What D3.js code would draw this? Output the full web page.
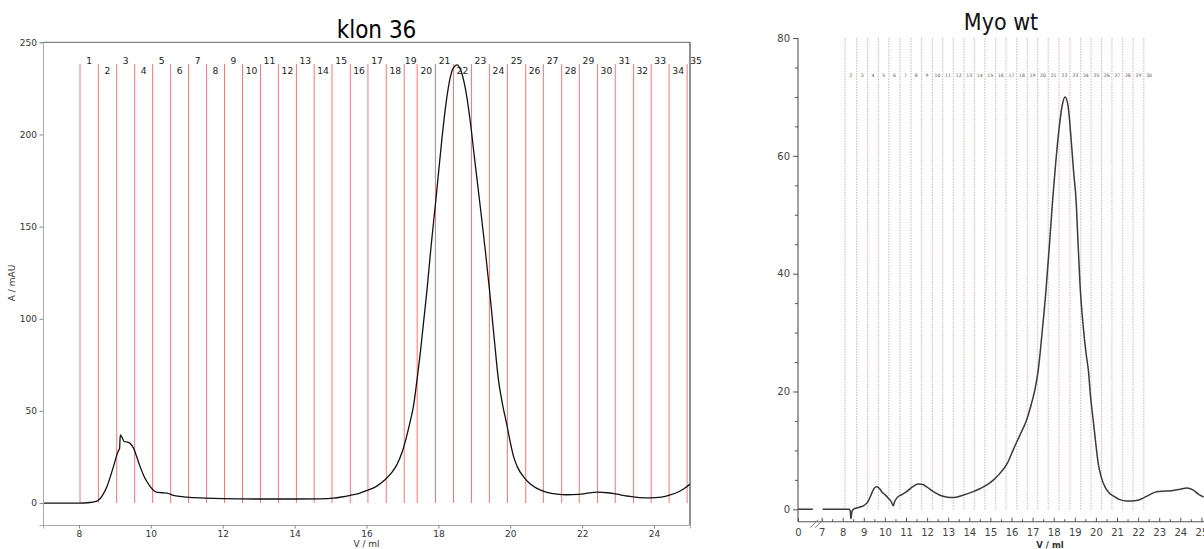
<!DOCTYPE html>
<html><head><meta charset="utf-8">
<script src="https://cdn.jsdelivr.net/npm/d3@7/dist/d3.min.js"></script>
<style>html,body{margin:0;padding:0;background:#fff;}svg{display:block;}</style>
</head><body>
<svg id="chart" width="1204" height="549"></svg>
<script>
// ---------- DATA: left panel "klon 36" ----------
const leftTitle = "klon 36";
const leftXTicks = [8,10,12,14,16,18,20,22,24];
const leftYTicks = [0,50,100,150,200,250];
const leftFractionStarts = [8.03,8.54,9.05,9.55,10.05,10.55,11.05,11.55,12.05,12.55,13.05,13.55,14.05,14.545,15.04,15.55,16.04,16.55,17.05,17.41,17.92,18.42,18.92,19.42,19.92,20.43,20.92,21.43,21.92,22.43,22.92,23.43,23.92,24.42,24.92];
const leftFractionLabels = d3.range(1,36).map(String);
const leftVolume = [7.0,8.0,8.3,8.45,8.54,8.65,8.78,8.96,9.10,9.13,9.15,9.2,9.26,9.38,9.45,9.52,9.6,9.70,9.8,9.89,10.0,10.08,10.15,10.3,10.45,10.63,10.8,11.0,11.5,12,13,14,14.7,15.08,15.3,15.55,15.8,16.0,16.25,16.5,16.7,16.85,16.98,17.1,17.2,17.31,17.4,17.5,17.68,17.8,17.93,18.1,18.2,18.3,18.4,18.52,18.62,18.75,18.9,19.0,19.14,19.3,19.42,19.55,19.67,19.78,19.9,20.0,20.09,20.2,20.37,20.55,20.74,20.9,21.11,21.3,21.57,21.9,22.2,22.41,22.7,22.96,23.3,23.6,23.89,24.2,24.45,24.7,24.85,25.0];
const leftAbs =    [0,0,0.3,0.8,1.5,4,9,19.8,28.5,29.5,37,35.5,33.4,32.9,31.8,29.8,25.5,19.9,15,11.7,8.5,6.8,6.0,5.6,5.4,4.2,3.6,3.2,2.7,2.4,2.2,2.2,2.3,2.7,3.3,4.2,5.3,6.7,8.8,12.4,16.5,21,27,35,43,53,66,82,115,140,164.5,198,215,228,235.5,237.8,235,225,205,188,165,138,116,90,67,54,43,33,25.3,19.5,14.2,10.5,8.0,6.6,5.4,4.8,4.5,4.7,5.5,5.9,5.6,4.8,3.7,3.0,2.8,3.2,4.4,6.3,8,10.3];

// ---------- DATA: right panel "Myo wt" ----------
const rightTitle = "Myo wt";
const rightXTicks = [0,7,8,9,10,11,12,13,14,15,16,17,18,19,20,21,22,23,24,25];
const rightYTicks = [0,20,40,60,80];
const rightFractionStarts = [8.11,8.66,9.18,9.69,10.19,10.72,11.24,11.74,12.25,12.74,13.24,13.75,14.24,14.74,15.25,15.74,16.25,16.75,17.24,17.74,18.25,18.77,19.28,19.77,20.27,20.76,21.27,21.76,22.27];
const rightFractionLabels = d3.range(2,31).map(String);
const rightVolume = [0,4.4,null,7.05,8.3,8.36,8.39,8.43,8.5,8.75,8.98,9.1,9.21,9.35,9.45,9.55,9.64,9.75,9.85,10.0,10.16,10.3,10.4,10.45,10.56,10.8,11.03,11.3,11.58,11.8,11.98,12.3,12.61,12.9,13.24,13.7,14.19,14.5,14.82,15.15,15.45,15.8,16.08,16.4,16.72,16.95,17.11,17.27,17.45,17.63,17.8,17.95,18.1,18.25,18.4,18.54,18.68,18.8,18.95,19.06,19.15,19.25,19.4,19.55,19.64,19.75,19.87,20.0,20.11,20.25,20.43,20.62,20.82,21.1,21.46,21.93,22.4,22.88,23.3,23.67,24.0,24.3,24.6,24.85,25.1];
const rightAbs =    [0,0,null,0,0,-0.3,-1.6,-0.5,0,0.3,0.6,0.9,1.4,2.5,3.3,3.75,3.85,3.5,3.0,2.5,1.9,1.3,0.6,1.2,1.9,2.5,3.0,3.8,4.3,4.2,3.8,3.0,2.4,2.1,2.0,2.4,3.0,3.5,4.1,5.0,6.1,7.8,10.1,12.6,15.2,18,20.3,23.7,30,37,45,52.5,59,64.5,68.5,70,68.5,64,57,52.5,45.5,38,31,26,23.7,19,15.2,11,7.8,5.5,3.8,2.8,2.3,1.7,1.4,1.5,2.2,3.0,3.1,3.2,3.4,3.6,3.3,2.6,2.1];

const svg = d3.select("#chart");
svg.append("rect").attr("width",1204).attr("height",549).attr("fill","#fff");
const FONT = "DejaVu Sans, sans-serif";

// ================= LEFT PANEL =================
const L = {x0:43, x1:690, y0:42.3, y1:525};
const xL = d3.scaleLinear().domain([7,25]).range([L.x0,L.x1]);
const yL = d3.scaleLinear().domain([-11.9,250]).range([L.y1,L.y0]);
const gL = svg.append("g");

gL.append("defs").append("clipPath").attr("id","clipL")
  .append("rect").attr("x",L.x0).attr("y",L.y0).attr("width",L.x1-L.x0).attr("height",L.y1-L.y0);

// fraction lines
const lineTop = 238.2;
gL.append("g").selectAll("line").data(leftFractionStarts).join("line")
  .attr("x1",d=>xL(d)).attr("x2",d=>xL(d))
  .attr("y1",yL(0)).attr("y2",yL(lineTop))
  .attr("stroke","red").attr("stroke-opacity",0.55).attr("stroke-width",1);

// fraction labels
gL.append("g").selectAll("text").data(leftFractionLabels).join("text")
  .attr("x",(d,i)=>{const a=leftFractionStarts[i]; const b=i+1<leftFractionStarts.length?leftFractionStarts[i+1]:a+0.5; return xL((a+b)/2);})
  .attr("y",(d,i)=> i%2===0 ? 64 : 73.5)
  .attr("text-anchor","middle").attr("font-family",FONT).attr("font-size",9.2).attr("fill","#222")
  .text(d=>d);

// curve
const leftPts = leftVolume.map((v,i)=>[v,leftAbs[i]]);
gL.append("path").datum(leftPts)
  .attr("clip-path","url(#clipL)")
  .attr("d", d3.line().x(d=>xL(d[0])).y(d=>yL(d[1])).curve(d3.curveMonotoneX))
  .attr("fill","none").attr("stroke","#111").attr("stroke-width",1.3);

// spines
gL.append("line").attr("x1",L.x0).attr("x2",L.x1).attr("y1",L.y0).attr("y2",L.y0).attr("stroke","#666").attr("stroke-width",1);
gL.append("line").attr("x1",L.x1).attr("x2",L.x1).attr("y1",L.y0).attr("y2",L.y1).attr("stroke","#222").attr("stroke-width",1);

// axes
const axL = gL.append("g").attr("transform",`translate(${L.x0},0)`)
  .call(d3.axisLeft(yL).tickValues(leftYTicks).tickSize(3.5).tickPadding(2.5));
const axB = gL.append("g").attr("transform",`translate(0,${L.y1})`)
  .call(d3.axisBottom(xL).tickValues(leftXTicks).tickSize(3.5).tickPadding(2.5));
[axL,axB].forEach(a=>{
  a.select(".domain").attr("stroke","#aaa");
  a.selectAll(".tick line").attr("stroke","#888");
  a.selectAll(".tick text").attr("font-family",FONT).attr("font-size",9).attr("fill","#333");
});

// titles / labels
gL.append("text").attr("x",376.5).attr("y",38.3).attr("text-anchor","middle")
  .attr("font-family","DejaVu Sans Condensed, DejaVu Sans, sans-serif").attr("font-size",24).attr("fill","#000").text(leftTitle);
gL.append("text").attr("x",(L.x0+L.x1)/2).attr("y",547).attr("text-anchor","middle")
  .attr("font-family",FONT).attr("font-size",9).attr("fill","#333").text("V / ml");
gL.append("text").attr("transform","translate(15,283) rotate(-90)").attr("text-anchor","middle")
  .attr("font-family",FONT).attr("font-size",9).attr("fill","#333").text("A / mAU");

// ================= RIGHT PANEL =================
const R = {x0:798, x1:1204, yTop:38, yBot:521.7};
const xR = d3.scaleLinear().domain([0,7,25]).range([798,821.6,1201.4]);
const yR = d3.scaleLinear().domain([-2.1,80]).range([R.yBot,R.yTop]);
const gR = svg.append("g");

// fraction lines (dotted, pale)
gR.append("g").selectAll("line").data(rightFractionStarts).join("line")
  .attr("x1",d=>xR(d)).attr("x2",d=>xR(d))
  .attr("y1",yR(80)).attr("y2",yR(-0.2))
  .attr("stroke","#cfa8a8").attr("stroke-width",0.9).attr("stroke-dasharray","1.5,1.2");

gR.append("g").selectAll("text").data(rightFractionLabels).join("text")
  .attr("x",(d,i)=>{const a=rightFractionStarts[i]; const b=i+1<rightFractionStarts.length?rightFractionStarts[i+1]:a+0.5; return xR((a+b)/2);})
  .attr("y",77)
  .attr("text-anchor","middle").attr("font-family",FONT).attr("font-size",4.6).attr("fill","#555")
  .text(d=>d);

// curve
const rightPts = rightVolume.map((v,i)=>[v,rightAbs[i]]);
gR.append("path").datum(rightPts)
  .attr("d", d3.line().defined(d=>d[0]!==null && d[1]!==null).x(d=>xR(d[0])).y(d=>yR(d[1])).curve(d3.curveMonotoneX))
  .attr("fill","none").attr("stroke","#3a3a3a").attr("stroke-width",1.5);

// y axis
const ayR = gR.append("g").attr("transform",`translate(${R.x0},0)`)
  .call(d3.axisLeft(yR).tickValues(rightYTicks).tickSize(5).tickPadding(3));
ayR.select(".domain").attr("d",`M0,${R.yTop}V${R.yBot}`);
const ayRm = gR.append("g").attr("transform",`translate(${R.x0},0)`)
  .call(d3.axisLeft(yR).tickValues(d3.range(5,80,5).filter(v=>v%20!==0)).tickSize(3).tickFormat(""));
ayRm.select(".domain").remove();

// x axis (ticks pointing up)
const axR = gR.append("g").attr("transform",`translate(0,${R.yBot})`)
  .call(d3.axisBottom(xR).tickValues(rightXTicks).tickSize(-4).tickPadding(7));
axR.select(".domain").attr("d",`M${R.x0},0H${R.x1}`);
const axRm = gR.append("g").attr("transform",`translate(0,${R.yBot})`)
  .call(d3.axisBottom(xR).tickValues(d3.range(7.5,25,1)).tickSize(-2.5).tickFormat(""));
axRm.select(".domain").remove();

[ayR,ayRm,axR,axRm].forEach(a=>{
  a.select(".domain").attr("stroke","#555").attr("stroke-width",1.1);
  a.selectAll(".tick line").attr("stroke","#555");
  a.selectAll(".tick text").attr("font-family",FONT).attr("font-size",10).attr("fill","#444");
});

// axis break marks
[0,5].forEach(off=>{
  gR.append("line").attr("x1",xR(3.6)+off).attr("y1",R.yBot+6).attr("x2",xR(3.6)+off+8).attr("y2",R.yBot-2)
    .attr("stroke","#777").attr("stroke-width",1);
});

gR.append("text").attr("x",1001).attr("y",29.5).attr("text-anchor","middle")
  .attr("font-family","DejaVu Sans Condensed, DejaVu Sans, sans-serif").attr("font-size",23).attr("fill","#111").text(rightTitle);
gR.append("text").attr("x",1050).attr("y",548).attr("text-anchor","middle")
  .attr("font-family",FONT).attr("font-size",8.5).attr("font-weight","bold").attr("fill","#333").text("V / ml");
</script>
</body></html>
